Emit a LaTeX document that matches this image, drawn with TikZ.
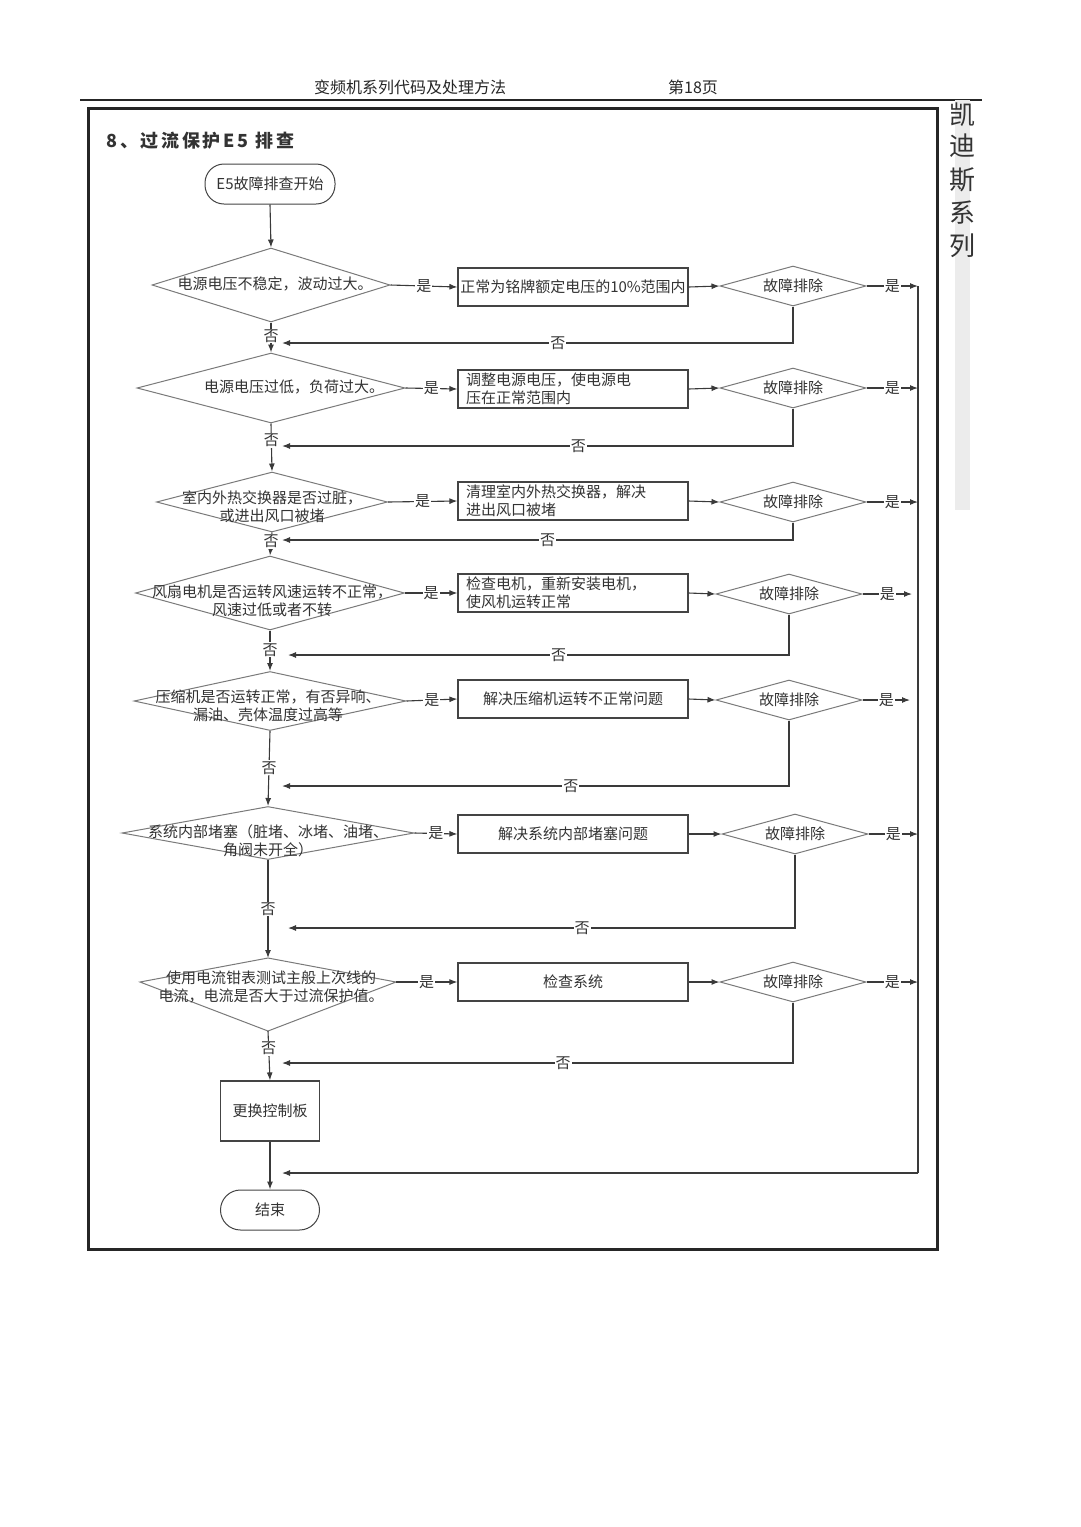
\documentclass[tikz,border=0pt]{standalone}
\usepackage{fontspec}
\setmainfont{Noto Sans CJK SC}
\usetikzlibrary{arrows.meta,shapes.geometric}
\definecolor{tcol}{HTML}{333333}
\definecolor{lcol}{HTML}{3A3A3A}
\definecolor{dgray}{HTML}{7A7A7A}
\definecolor{bline}{HTML}{444444}
\begin{document}
\begin{tikzpicture}[x=1pt,y=-1pt,
  every node/.style={text=tcol},
  txt/.style={font=\fontsize{15}{18}\selectfont, inner sep=0pt, align=center},
  dia/.style={draw=dgray, line width=1pt, shape=diamond, inner sep=0pt},
  fd/.style={dia, minimum width=146pt, minimum height=40pt},
  box/.style={draw=bline, line width=1.2pt, minimum width=230pt, minimum height=38pt, inner sep=0pt, font=\fontsize{15}{18}\selectfont, align=center},
  lbox/.style={box, text width=214pt, align=left, inner xsep=8pt},
  term/.style={draw=bline, line width=1pt, rounded corners=19pt, minimum width=130pt, minimum height=40pt, inner sep=0pt, font=\fontsize{15}{18}\selectfont},
  arr/.style={draw=lcol, line width=1.1pt, -{Latex[length=8pt,width=6pt]}},
  ln/.style={draw=lcol, line width=1.1pt},
  lbl/.style={fill=white, inner sep=1pt, font=\fontsize{15}{18}\selectfont},
  side/.style={font=\fontsize{26}{28}\selectfont, text=black!80},
]
\fill[white] (0,0) rectangle (1080,1527);
\useasboundingbox (0,0) rectangle (1080,1527);

% header
\node[font=\fontsize{16}{18}\selectfont, text=black!85] (hd) at (410,87) {变频机系列代码及处理方法};
\node[font=\fontsize{16}{18}\selectfont, text=black!85] (pg) at (693,87) {第18页};
\draw[line width=2pt, black!85] (80,100) -- (982,100);

% side bar
\fill[gray!15] (955,100) rectangle (970,510);
\node[side] (s1) at (962,115) {凯};
\node[side] (s2) at (962,146) {迪};
\node[side] (s3) at (962,180) {斯};
\node[side] (s4) at (962,213) {系};
\node[side] (s5) at (962,246) {列};

% frame
\draw[line width=3pt, black!85] (88,108) rectangle (937,1249);

% title
\node[anchor=west, font=\fontsize{18}{20}\selectfont\bfseries\addfontfeature{LetterSpace=15}, text=black!80] (title) at (103,141) {8、过流保护E5 排查};

% start
\node[term] (s) at (270,184) {E5故障排查开始};

% row 1
\node[dia, minimum width=238pt, minimum height=74pt] (d1) at (271,285) {};
\node[txt] (t1) at (275,284) {电源电压不稳定，波动过大。};
\node[box] (b1) at (573,287) {正常为铭牌额定电压的10\%范围内};
\node[fd] (f1) at (793,286) {};
\node[txt] (f1t) at (f1) {故障排除};

% row 2
\node[dia, minimum width=268pt, minimum height=70pt] (d2) at (271,388) {};
\node[txt] (t2) at (294,387) {电源电压过低，负荷过大。};
\node[lbox] (b2) at (573,389) {调整电源电压，使电源电\\压在正常范围内};
\node[fd] (f2) at (793,388) {};
\node[txt] (f2t) at (f2) {故障排除};

% row 3
\node[dia, minimum width=231pt, minimum height=60pt] (d3) at (272,502) {};
\node[txt] (t3) at (272,507) {室内外热交换器是否过脏，\\或进出风口被堵};
\node[lbox] (b3) at (573,501) {清理室内外热交换器，解决\\进出风口被堵};
\node[fd] (f3) at (793,502) {};
\node[txt] (f3t) at (f3) {故障排除};

% row 4
\node[dia, minimum width=269pt, minimum height=74pt] (d4) at (270,593) {};
\node[txt] (t4) at (272,601) {风扇电机是否运转风速运转不正常，\\风速过低或者不转};
\node[lbox] (b4) at (573,593) {检查电机，重新安装电机，\\使风机运转正常};
\node[fd] (f4) at (789,594) {};
\node[txt] (f4t) at (f4) {故障排除};

% row 5
\node[dia, minimum width=272pt, minimum height=59pt] (d5) at (270,701) {};
\node[txt] (t5) at (268,706) {压缩机是否运转正常，有否异响、\\漏油、壳体温度过高等};
\node[box] (b5) at (573,699) {解决压缩机运转不正常问题};
\node[fd] (f5) at (789,700) {};
\node[txt] (f5t) at (f5) {故障排除};

% row 6
\node[dia, minimum width=292pt, minimum height=53pt] (d6) at (268,833) {};
\node[txt] (t6) at (268,841) {系统内部堵塞（脏堵、冰堵、油堵、\\角阀未开全）};
\node[box] (b6) at (573,834) {解决系统内部堵塞问题};
\node[fd] (f6) at (795,834) {};
\node[txt] (f6t) at (f6) {故障排除};

% row 7 (kite shaped decision)
\coordinate (d7n) at (268,958);
\coordinate (d7w) at (140,982);
\coordinate (d7e) at (396,982);
\coordinate (d7s) at (268,1031);
\draw[draw=dgray, line width=1pt] (d7n) -- (d7e) -- (d7s) -- (d7w) -- cycle;
\node[txt] (t7) at (271,987) {使用电流钳表测试主般上次线的\\电流，电流是否大于过流保护值。};
\node[box] (b7) at (573,982) {检查系统};
\node[fd] (f7) at (793,982) {};
\node[txt] (f7t) at (f7) {故障排除};

% replace + end
\node[box, minimum width=99pt, minimum height=60pt] (rep) at (270,1111) {更换控制板};
\node[term, minimum width=99pt, minimum height=40pt, rounded corners=20pt] (fin) at (270,1210) {结束};

% return coordinates
\coordinate (r1) at (282,343);
\coordinate (r2) at (282,446);
\coordinate (r3) at (282,540);
\coordinate (r4) at (288,655);
\coordinate (r5) at (282,786);
\coordinate (r6) at (288,928);
\coordinate (r7) at (282,1063);
\coordinate (rt1) at (918,286);
\coordinate (rt2) at (918,388);
\coordinate (rt3) at (918,502);
\coordinate (rt4) at (912,594);
\coordinate (rt5) at (910,700);
\coordinate (rt6) at (918,834);
\coordinate (rt7) at (918,982);
\coordinate (rb) at (918,1173);
\coordinate (rend) at (282,1173);

% trunk
\draw[arr] (s.south) -- (d1.north);
\draw[arr] (d1.south) -- node[lbl,pos=0.45]{否} (d2.north);
\draw[arr] (d2.south) -- node[lbl,pos=0.35]{否} (d3.north);
\draw[arr] (d3.south) -- node[lbl,pos=0.4]{否} (d4.north);
\draw[arr] (d4.south) -- node[lbl,pos=0.48]{否} (d5.north);
\draw[arr] (d5.south) -- node[lbl,pos=0.49]{否} (d6.north);
\draw[arr] (d6.south) -- node[lbl,pos=0.5]{否} (d7n);
\draw[arr] (d7s) -- node[lbl,pos=0.35]{否} (rep.north);
\draw[arr] (rep.south) -- (fin.north);

% yes branches
\draw[arr] (d1.east) -- node[lbl]{是} (b1.west);
\draw[arr] (d2.east) -- node[lbl]{是} (b2.west);
\draw[arr] (d3.east) -- node[lbl]{是} (b3.west);
\draw[arr] (d4.east) -- node[lbl]{是} (b4.west);
\draw[arr] (d5.east) -- node[lbl]{是} (b5.west);
\draw[arr] (d6.east) -- node[lbl]{是} (b6.west);
\draw[arr] (d7e) -- node[lbl]{是} (b7.west);

\draw[arr] (b1.east) -- (f1.west);
\draw[arr] (b2.east) -- (f2.west);
\draw[arr] (b3.east) -- (f3.west);
\draw[arr] (b4.east) -- (f4.west);
\draw[arr] (b5.east) -- (f5.west);
\draw[arr] (b6.east) -- (f6.west);
\draw[arr] (b7.east) -- (f7.west);

\draw[arr] (f1.east) -- node[lbl]{是} (rt1);
\draw[arr] (f2.east) -- node[lbl]{是} (rt2);
\draw[arr] (f3.east) -- node[lbl]{是} (rt3);
\draw[arr] (f4.east) -- node[lbl]{是} (rt4);
\draw[arr] (f5.east) -- node[lbl]{是} (rt5);
\draw[arr] (f6.east) -- node[lbl]{是} (rt6);
\draw[arr] (f7.east) -- node[lbl]{是} (rt7);

% no returns
\draw[arr] (f1.south) |- node[lbl,pos=0.73]{否} (r1);
\draw[arr] (f2.south) |- node[lbl,pos=0.71]{否} (r2);
\draw[arr] (f3.south) |- node[lbl,pos=0.74]{否} (r3);
\draw[arr] (f4.south) |- node[lbl,pos=0.73]{否} (r4);
\draw[arr] (f5.south) |- node[lbl,pos=0.715]{否} (r5);
\draw[arr] (f6.south) |- node[lbl,pos=0.71]{否} (r6);
\draw[arr] (f7.south) |- node[lbl,pos=0.725]{否} (r7);

% right collector
\draw[ln] (rt1) -- (rb);
\draw[arr] (rb) -- (rend);
\end{tikzpicture}
\end{document}
